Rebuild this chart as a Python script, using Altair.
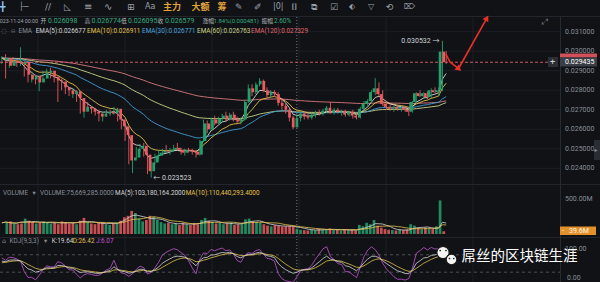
import altair as alt
import pandas as pd
import numpy as np

# ---------------- data ----------------
opens = [0.02955, 0.02965, 0.02925, 0.02950, 0.02940, 0.02935, 0.02945, 0.02880, 0.02855, 0.02875,
         0.02840, 0.02860, 0.02890, 0.02900, 0.02870, 0.02850, 0.02845, 0.02815, 0.02800, 0.02780,
         0.02795, 0.02760, 0.02690, 0.02715, 0.02705, 0.02690, 0.02680, 0.02665, 0.02680, 0.02690,
         0.02680, 0.02705, 0.02650, 0.02615, 0.02570, 0.02440, 0.02455, 0.02500, 0.02515, 0.02470,
         0.02385, 0.02430, 0.02465, 0.02480, 0.02490, 0.02485, 0.02495, 0.02505, 0.02495, 0.02480,
         0.02495, 0.02490, 0.02485, 0.02470, 0.02540, 0.02630, 0.02600, 0.02650, 0.02630, 0.02655,
         0.02670, 0.02650, 0.02675, 0.02650, 0.02640, 0.02650, 0.02740, 0.02810, 0.02790, 0.02830,
         0.02848, 0.02800, 0.02775, 0.02790, 0.02780, 0.02735, 0.02720, 0.02700, 0.02660, 0.026098,
         0.02658, 0.02680, 0.02665, 0.02660, 0.02675, 0.02685, 0.02680, 0.02695, 0.02710, 0.02685,
         0.02700, 0.02690, 0.02695, 0.02675, 0.02690, 0.02670, 0.02660, 0.02705, 0.02730, 0.02745,
         0.02790, 0.02810, 0.02780, 0.02730, 0.02715, 0.02705, 0.02715, 0.02705, 0.02712, 0.02700,
         0.02690, 0.02740, 0.02785, 0.02770, 0.02785, 0.02765, 0.02800, 0.02790, 0.02800, 0.02998]
highs = [0.02975, 0.02985, 0.02960, 0.02970, 0.02960, 0.03020, 0.02950, 0.02895, 0.02885, 0.02880,
         0.02870, 0.02900, 0.02910, 0.02915, 0.02880, 0.02865, 0.02860, 0.02830, 0.02815, 0.02810,
         0.02800, 0.02765, 0.02730, 0.02740, 0.02720, 0.02710, 0.02700, 0.02690, 0.02700, 0.02700,
         0.02715, 0.02710, 0.02660, 0.02625, 0.02580, 0.02470, 0.02510, 0.02525, 0.02530, 0.02480,
         0.02440, 0.02475, 0.02490, 0.02500, 0.02520, 0.02505, 0.02520, 0.02530, 0.02505, 0.02500,
         0.02505, 0.02500, 0.02495, 0.02545, 0.02650, 0.02645, 0.02660, 0.02670, 0.02665, 0.02680,
         0.02690, 0.02685, 0.02690, 0.02665, 0.02660, 0.02750, 0.02830, 0.02830, 0.02840, 0.02862,
         0.02855, 0.02815, 0.02800, 0.02800, 0.02790, 0.02760, 0.02730, 0.02705, 0.02670, 0.026774,
         0.02690, 0.02690, 0.02685, 0.02680, 0.02695, 0.02700, 0.02705, 0.02720, 0.02740, 0.02710,
         0.02710, 0.02700, 0.02700, 0.02695, 0.02700, 0.02685, 0.02715, 0.02745, 0.02755, 0.02800,
         0.02862, 0.02840, 0.02800, 0.02745, 0.02730, 0.02720, 0.02725, 0.02720, 0.02720, 0.02710,
         0.02745, 0.02790, 0.02800, 0.02790, 0.02795, 0.02810, 0.02815, 0.02815, 0.030532, 0.03000]
lows = [0.02935, 0.02860, 0.02915, 0.02930, 0.02920, 0.02925, 0.02870, 0.02840, 0.02840, 0.02830,
        0.02795, 0.02850, 0.02880, 0.02860, 0.02840, 0.02740, 0.02800, 0.02780, 0.02770, 0.02760,
        0.02740, 0.02680, 0.02660, 0.02700, 0.02680, 0.02670, 0.02640, 0.02640, 0.02665, 0.02670,
        0.02675, 0.02640, 0.02600, 0.02540, 0.02420, 0.02375, 0.02450, 0.02485, 0.02460, 0.02370,
        0.023523, 0.02420, 0.02450, 0.02465, 0.02480, 0.02470, 0.02485, 0.02490, 0.02470, 0.02465,
        0.02480, 0.02470, 0.02455, 0.02465, 0.02535, 0.02580, 0.02590, 0.02620, 0.02625, 0.02640,
        0.02640, 0.02645, 0.02640, 0.02625, 0.02625, 0.02645, 0.02735, 0.02770, 0.02780, 0.02820,
        0.02790, 0.02760, 0.02760, 0.02765, 0.02720, 0.02700, 0.02680, 0.02640, 0.02600, 0.026095,
        0.02640, 0.02650, 0.02650, 0.02650, 0.02660, 0.02670, 0.02670, 0.02685, 0.02680, 0.02675,
        0.02680, 0.02670, 0.02665, 0.02665, 0.02655, 0.02650, 0.02655, 0.02695, 0.02715, 0.02735,
        0.02775, 0.02770, 0.02720, 0.02700, 0.02695, 0.02690, 0.02695, 0.02690, 0.02690, 0.02668,
        0.02685, 0.02730, 0.02765, 0.02755, 0.02755, 0.02760, 0.02785, 0.02770, 0.02795, 0.02935]
closes = [0.02965, 0.02925, 0.02950, 0.02940, 0.02935, 0.02945, 0.02880, 0.02855, 0.02875, 0.02840,
          0.02860, 0.02890, 0.02900, 0.02870, 0.02850, 0.02845, 0.02815, 0.02800, 0.02780, 0.02795,
          0.02760, 0.02690, 0.02715, 0.02705, 0.02690, 0.02680, 0.02665, 0.02680, 0.02690, 0.02680,
          0.02705, 0.02650, 0.02615, 0.02570, 0.02440, 0.02455, 0.02500, 0.02515, 0.02470, 0.02385,
          0.02430, 0.02465, 0.02480, 0.02490, 0.02485, 0.02495, 0.02505, 0.02495, 0.02480, 0.02495,
          0.02490, 0.02485, 0.02470, 0.02540, 0.02630, 0.02600, 0.02650, 0.02630, 0.02655, 0.02670,
          0.02650, 0.02675, 0.02650, 0.02640, 0.02650, 0.02740, 0.02810, 0.02790, 0.02830, 0.02848,
          0.02800, 0.02775, 0.02790, 0.02780, 0.02735, 0.02720, 0.02700, 0.02660, 0.02610, 0.026579,
          0.02680, 0.02665, 0.02660, 0.02675, 0.02685, 0.02680, 0.02695, 0.02710, 0.02685, 0.02700,
          0.02690, 0.02695, 0.02675, 0.02690, 0.02670, 0.02660, 0.02705, 0.02730, 0.02745, 0.02790,
          0.02810, 0.02780, 0.02730, 0.02715, 0.02705, 0.02715, 0.02705, 0.02712, 0.02700, 0.02690,
          0.02740, 0.02785, 0.02770, 0.02785, 0.02765, 0.02800, 0.02790, 0.02800, 0.02998, 0.029435]
volumes_m = [160, 180, 150, 140, 150, 220, 190, 170, 150, 160,
             180, 170, 150, 160, 140, 180, 170, 150, 160, 140,
             190, 230, 170, 150, 140, 160, 170, 140, 130, 150,
             160, 190, 240, 260, 330, 300, 220, 180, 200, 260,
             250, 200, 170, 150, 160, 140, 150, 130, 160, 140,
             130, 150, 140, 200, 230, 190, 170, 150, 160, 140,
             150, 160, 130, 140, 150, 210, 220, 180, 170, 160,
             140, 120, 110, 125, 115, 105, 110, 115, 105, 75.669285,
             60, 55, 50, 65, 55, 70, 60, 65, 80, 55,
             60, 50, 65, 55, 60, 50, 130, 110, 160, 140,
             200, 120, 90, 70, 60, 55, 50, 60, 55, 65,
             140, 120, 85, 70, 90, 80, 75, 110, 480, 39.6]
price_ticks = [0.024, 0.025, 0.026, 0.027, 0.028, 0.029, 0.030, 0.031]
last_price = 0.029435
cross_index = 79
arrow1_x = [118.9, 120.0, 122.4]
arrow1_p = [0.02986, 0.02945, 0.02909]
arrow2_x = [122.4, 129.9]
arrow2_p = [0.02914, 0.03170]

# ---------------- derived indicators ----------------
df = pd.DataFrame(dict(i=range(len(closes)), o=opens, h=highs, l=lows, c=closes,
                       v=[x * 1e6 for x in volumes_m]))
df["dir"] = np.where(df.c >= df.o, "up", "down")
for n in [5, 10, 30, 60, 120]:
    df[f"ema{n}"] = df.c.ewm(span=n, adjust=False).mean()
df["ma5"] = df.v.rolling(5, min_periods=1).mean()
df["ma10"] = df.v.rolling(10, min_periods=1).mean()
lo9 = df.l.rolling(9, min_periods=1).min()
hi9 = df.h.rolling(9, min_periods=1).max()
rsv = ((df.c - lo9) / (hi9 - lo9) * 100).fillna(50)
K, D = [], []
k = d = 50.0
for r in rsv:
    k = 2 / 3 * k + r / 3
    d = 2 / 3 * d + k / 3
    K.append(k)
    D.append(d)
df["K"] = K
df["D"] = D
df["J"] = 3 * df.K - 2 * df.D

# ---------------- layout ----------------
W, H = 600, 282
PLOT_R = 560
STEP = 3.7337  # px per candle
XD = [-0.5, W / STEP - 0.5]


def lin_domain(v1, y1, v2, y2):
    ppu = (y2 - y1) / (v1 - v2)
    return [v1 - (H - y1) / ppu, v1 + y1 / ppu]


PD = lin_domain(0.031, 31.7, 0.024, 168.3)
VD = lin_domain(500e6, 199, 0, 234)
KD = lin_domain(100, 249, 0, 278)

BG = "#101216"
GRID = "#1c1f25"
AX = "#8a8f98"
UP = "#25a06c"
DN = "#ea5a5e"
FONT = "Roboto, Noto Sans CJK SC, DejaVu Sans"


def X(field="i"):
    return alt.X(f"{field}:Q", scale=alt.Scale(domain=XD, nice=False, zero=False), axis=None)


def Yq(field, dom):
    return alt.Y(f"{field}:Q", scale=alt.Scale(domain=dom, nice=False, zero=False), axis=None)


dircol = alt.Color("dir:N", scale=alt.Scale(domain=["up", "down"], range=[UP, DN]), legend=None)
one = pd.DataFrame({"a": [0]})


def texts(rows, size, font=FONT, align="left", weight="normal"):
    d = pd.DataFrame(rows, columns=["t", "x", "y", "col"])
    return alt.Chart(d).mark_text(align=align, baseline="middle", font=font, fontWeight=weight,
                                  fontSize=size).encode(
        x=alt.X("x:Q", scale=None), y=alt.Y("y:Q", scale=None), text="t:N",
        color=alt.Color("col:N", scale=None))


def rects(rows):
    d = pd.DataFrame(rows, columns=["x1", "x2", "y1", "y2", "col"])
    return alt.Chart(d).mark_rect().encode(
        x=alt.X("x1:Q", scale=None), x2="x2:Q", y=alt.Y("y1:Q", scale=None), y2="y2:Q",
        color=alt.Color("col:N", scale=None))


layers = []

# grids
vgrid = pd.DataFrame({"x": [38, 125, 212, 299, 386, 473]})
layers.append(alt.Chart(vgrid).mark_rule(color=GRID, strokeWidth=1).encode(
    x=alt.X("x:Q", scale=None), y=alt.value(17), y2=alt.value(H)))
tick_df = pd.DataFrame({"p": price_ticks, "lab": [f"{p:.6f}" for p in price_ticks]})
layers.append(alt.Chart(tick_df).mark_rule(color=GRID, strokeWidth=1).encode(
    y=Yq("p", PD), x=alt.value(0), x2=alt.value(PLOT_R)))
hlines = pd.DataFrame({"y": [16.5, 184.5, 237.5]})
layers.append(alt.Chart(hlines).mark_rule(color="#22252b", strokeWidth=1).encode(
    y=alt.Y("y:Q", scale=None), x=alt.value(0), x2=alt.value(W)))
layers.append(alt.Chart(one).mark_rule(color="#262a31", strokeWidth=1).encode(
    x=alt.value(PLOT_R + 0.5), y=alt.value(17), y2=alt.value(H)))
kdj_lv = pd.DataFrame({"k": [80, 20]})
layers.append(alt.Chart(kdj_lv).mark_rule(color="#5a5e66", strokeWidth=0.8, strokeDash=[3, 3]).encode(
    y=Yq("k", KD), x=alt.value(0), x2=alt.value(PLOT_R)))

# crosshair
cross = pd.DataFrame({"i": [cross_index]})
layers.append(alt.Chart(cross).mark_rule(color="#8a8f98", strokeWidth=0.8, strokeDash=[1, 2]).encode(
    x=X(), y=alt.value(17), y2=alt.value(H)))

# volume
layers.append(alt.Chart(df).mark_bar(size=2.7, opacity=0.85).encode(
    x=X(), y=Yq("v", VD), y2=alt.datum(0), color=dircol))
layers.append(alt.Chart(df).mark_line(color="#d6d6d6", strokeWidth=0.8).encode(x=X(), y=Yq("ma5", VD)))
layers.append(alt.Chart(df).mark_line(color="#e2c14a", strokeWidth=0.8).encode(x=X(), y=Yq("ma10", VD)))

# KDJ
for f, col in [("J", "#c257cf"), ("D", "#e2c14a"), ("K", "#d6d6d6")]:
    layers.append(alt.Chart(df).mark_line(color=col, strokeWidth=0.8).encode(x=X(), y=Yq(f, KD)))

# EMAs
for f, col in [("ema120", "#d9787e"), ("ema60", "#c9d486"), ("ema30", "#3f9bd6"),
               ("ema10", "#e2c14a"), ("ema5", "#d6d6d6")]:
    layers.append(alt.Chart(df).mark_line(color=col, strokeWidth=0.9).encode(x=X(), y=Yq(f, PD)))

# candles
layers.append(alt.Chart(df).mark_rule(strokeWidth=0.9).encode(
    x=X(), y=Yq("l", PD), y2="h:Q", color=dircol))
layers.append(alt.Chart(df).mark_bar(size=2.7).encode(
    x=X(), y=Yq("o", PD), y2="c:Q", color=dircol))

# last price line
lp = pd.DataFrame({"p": [last_price]})
layers.append(alt.Chart(lp).mark_rule(color="#e0646c", strokeWidth=0.9, strokeDash=[3, 2]).encode(
    y=Yq("p", PD), x=alt.value(0), x2=alt.value(PLOT_R)))

# high / low labels
hl = pd.DataFrame({"i": [118, 40], "p": [0.030532, 0.023523],
                   "t": ["0.030532 \u2192", "\u2190 0.023523"], "al": ["r", "l"]})
layers.append(alt.Chart(hl[hl.al == "r"]).mark_text(align="right", baseline="middle", dx=-3,
              font=FONT, fontSize=7, color="#d0d3d8").encode(x=X(), y=Yq("p", PD), text="t:N"))
layers.append(alt.Chart(hl[hl.al == "l"]).mark_text(align="left", baseline="middle", dx=2,
              font=FONT, fontSize=7, color="#d0d3d8").encode(x=X(), y=Yq("p", PD), text="t:N"))

# red hand-drawn arrows
a1 = pd.DataFrame({"i": arrow1_x, "p": arrow1_p, "o": range(3)})
a2 = pd.DataFrame({"i": arrow2_x, "p": arrow2_p, "o": range(2)})
for a in (a1, a2):
    layers.append(alt.Chart(a).mark_line(color="#e8302a", strokeWidth=1.6).encode(
        x=X(), y=Yq("p", PD), order="o:Q"))
heads = pd.DataFrame({"i": [arrow1_x[-1], arrow2_x[-1]], "p": [arrow1_p[-1], arrow2_p[-1]],
                      "ang": [128, 30]})
layers.append(alt.Chart(heads).mark_point(shape="triangle-up", filled=True, size=45, color="#e8302a",
                                          opacity=1).encode(
    x=X(), y=Yq("p", PD), angle=alt.Angle("ang:Q", scale=None)))

# right axis labels
layers.append(alt.Chart(tick_df).mark_text(align="left", baseline="middle", font=FONT, fontSize=7,
                                           color=AX).encode(x=alt.value(565), y=Yq("p", PD), text="lab:N"))
layers.append(rects([
    (560, 597, 53.5, 57.5, "#d2505a"),
    (560, 597, 57.5, 66.5, "#3a3e46"),
    (548, 558, 57, 67, "#2b2e35"),
    (560, 596, 226.5, 235, "#e4912a"),
    (594, 600, 140, 160, "#2a2d33"),
]))
layers.append(texts([
    ("0.029435", 565, 62, "#ffffff"),
    ("500.00M", 565, 199, AX),
    ("-", 562, 231, "#ffffff"),
    ("39.6M", 569, 231, "#fff3e0"),
    ("100.00", 565, 249, AX),
    ("0.00", 567, 278, AX),
], 7))
layers.append(texts([("+", 550, 62, "#d0d3d8")], 9))
layers.append(texts([("\u25b8", 594.5, 150, "#8a8f98")], 6, font="DejaVu Sans"))

# toolbar
gray_i = "#9ca0a8"
layers.append(texts([
    ("\u254b", 0, 7, "#8fc0ef"),
    ("//", 45, 7, gray_i),
    ("\u25fa", 64, 7, gray_i),
    ("\u229e", 127, 7, gray_i),
    ("\u270e", 235, 7, gray_i),
    ("\u2710", 254, 7, gray_i),
    ("\u2337", 292, 7, gray_i),
    ("\u29c9", 311, 7, gray_i),
    ("\u2611", 330, 7, gray_i),
    ("\u27f2", 386, 7, gray_i),
], 9, font="DejaVu Sans"))
layers.append(texts([
    ("\u251c\u2500", 19, 7, gray_i),
    ("Aa", 145, 7, gray_i),
    ("|0|", 273, 7, gray_i),
    ("\u2b16", 349, 7, gray_i),
    ("\u25bd", 368, 7, gray_i),
    ("\u2326", 404, 7, gray_i),
    ("\u2922", 542, 22, "#6f747c"),
], 8, font="DejaVu Sans"))
layers.append(texts([
    ("\u2261", 84, 7, gray_i),
    ("\u223f", 104, 7, gray_i),
], 10, font="DejaVu Sans"))
layers.append(texts([
    ("\u25cc", 1, 30.5, AX),
    ("\u237e", 11, 30.5, AX),
], 6.5, font="DejaVu Sans"))
layers.append(texts([
    ("主力", 163, 7, "#e0a33a"),
    ("大额", 191.5, 7, "#e0a33a"),
    ("筹", 217.5, 7, "#e0a33a"),
], 9, weight="bold"))

G = "#35ad7f"
L = "#b4b8be"
IY = 20.5
layers.append(texts([("2023-11-24 00:00", -3.2, IY, "#a3a7ad")], 5.3))
layers.append(texts([
    ("开", 40.5, IY, L), ("高", 84.5, IY, L), ("低", 121, IY, L), ("收", 157.5, IY, L),
    ("涨幅", 202.5, IY, L), ("振幅", 261.5, IY, L),
], 5.8))
layers.append(texts([
    ("0.026098", 48, IY, G), ("0.026774", 91.5, IY, G),
    ("0.026095", 128, IY, G), ("0.026579", 165, IY, G),
], 7.0))
layers.append(texts([("1.84%(0.000481)", 213.5, IY, G)], 6.0))
layers.append(texts([("2.60%", 274, IY, G)], 6.4))
layers.append(texts([
    ("EMA", 18.5, 30.5, AX),
    ("EMA(5):0.026677", 35.7, 30.5, "#d4d4d4"),
    ("EMA(10):0.026911", 87, 30.5, "#e2c14a"),
    ("EMA(30):0.026771", 142, 30.5, "#4aa3df"),
    ("EMA(60):0.026763", 197, 30.5, "#c9d486"),
    ("EMA(120):0.027329", 251, 30.5, "#e0666e"),
    ("VOLUME", 3, 192.5, AX),
    ("\u25be", 32.5, 192.5, AX),
    ("VOLUME:75,669,285.0000", 40, 192.5, AX),
    ("MA(5):103,180,164.2000", 115, 192.5, "#d4d4d4"),
    ("MA(10):110,440,293.4000", 185.7, 192.5, "#e2c14a"),
    ("\u2302", 2, 240.5, AX),
    ("KDJ(9,3,3)", 9.5, 240.5, AX),
    ("\u25be", 44, 240.5, AX),
    ("K:19.64", 51.7, 240.5, "#d4d4d4"),
    ("D:26.42", 72.7, 240.5, "#e2c14a"),
    ("J:6.07", 96, 240.5, "#c257cf"),
], 6.4))

# watermark (WeChat-style icon + text)
bub = pd.DataFrame({"x": [443, 451.5], "y": [252.5, 259.5], "s": [150, 115]})
layers.append(alt.Chart(bub).mark_point(shape="circle", filled=True, fill="#f4f4f4", stroke="#1a1a1a",
                                        strokeWidth=1.2, opacity=1).encode(
    x=alt.X("x:Q", scale=None), y=alt.Y("y:Q", scale=None), size=alt.Size("s:Q", scale=None)))
eyes = pd.DataFrame({"x": [440.2, 446, 449.5, 453.8], "y": [250.5, 250.5, 258.5, 258.5]})
layers.append(alt.Chart(eyes).mark_point(shape="circle", filled=True, color="#222", size=3, opacity=1).encode(
    x=alt.X("x:Q", scale=None), y=alt.Y("y:Q", scale=None)))
layers.append(texts([("屌丝的区块链生涯", 461.5, 256.5, "#ffffff")], 14.5, font="Noto Sans CJK SC"))

chart = alt.layer(*layers).resolve_scale(
    x="independent", y="independent", color="independent", size="independent"
).properties(
    width=W, height=H, background=BG, padding=0,
    autosize=alt.AutoSizeParams(type="none"),
).configure_view(stroke=None)

chart.save("out.html", embed_options={"renderer": "svg", "actions": False})
